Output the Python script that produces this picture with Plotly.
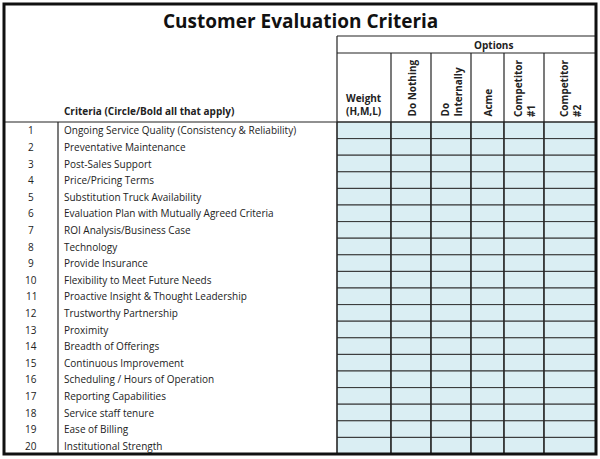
import plotly.graph_objects as go

title = "Customer Evaluation Criteria"
criteria_header = "Criteria (Circle/Bold all that apply)"
option_labels = ["Do Nothing", "Do<br>Internally", "Acme", "Competitor<br>#1", "Competitor<br>#2"]
weight_label = "<b>Weight<br>(H,M,L)</b>"
row_numbers = list(range(1, 21))
criteria = [
    "Ongoing Service Quality (Consistency & Reliability)",
    "Preventative Maintenance",
    "Post-Sales Support",
    "Price/Pricing Terms",
    "Substitution Truck Availability",
    "Evaluation Plan with Mutually Agreed Criteria",
    "ROI Analysis/Business Case",
    "Technology",
    "Provide Insurance",
    "Flexibility to Meet Future Needs",
    "Proactive Insight & Thought Leadership",
    "Trustworthy Partnership",
    "Proximity",
    "Breadth of Offerings",
    "Continuous Improvement",
    "Scheduling / Hours of Operation",
    "Reporting Capabilities",
    "Service staff tenure",
    "Ease of Billing",
    "Institutional Strength",
]

# layout geometry (pixels)
L, R, T, B = 4, 596, 4, 454
num_x = 58
col_edges = [337, 391, 431, 471, 504, 544, R]
title_y, opt_y, head_y = 36, 53, 122
row_h = (B - head_y) / len(criteria)

FONT = "Open Sans"
fig = go.Figure()
shapes = []
ann = []

# blue cells
for i in range(len(criteria)):
    y0 = head_y + i * row_h
    for c in range(len(col_edges) - 1):
        shapes.append(dict(type="rect", x0=col_edges[c], x1=col_edges[c + 1], y0=y0, y1=y0 + row_h,
                           fillcolor="#DAEEF3", line=dict(color="#333", width=1), layer="below"))
    ann.append(dict(x=(L + num_x) / 2, y=y0 + row_h / 2, text=str(row_numbers[i]), showarrow=False,
                    font=dict(size=10, color="#222", family=FONT)))
    ann.append(dict(x=num_x + 4, y=y0 + row_h / 2, text=criteria[i], showarrow=False, xanchor="left",
                    font=dict(size=10, color="#222", family=FONT)))

def line(x0, y0, x1, y1, w=1.2):
    shapes.append(dict(type="line", x0=x0, y0=y0, x1=x1, y1=y1, line=dict(color="#222", width=w)))

line(col_edges[0], title_y, R, title_y)
line(col_edges[0], opt_y, R, opt_y)
line(L, head_y, R, head_y)
line(num_x, head_y, num_x, B)
for x in col_edges[:-1]:
    line(x, title_y if x == col_edges[0] else opt_y, x, B)
shapes.append(dict(type="rect", x0=L, x1=R, y0=T, y1=B, line=dict(color="#111", width=3)))

ann.append(dict(x=(L + R) / 2, y=(T + title_y) / 2 + 1, text="<b>" + title + "</b>", showarrow=False,
                font=dict(size=19, color="#111", family=FONT)))
ann.append(dict(x=(col_edges[1] + R) / 2, y=(title_y + opt_y) / 2, text="<b>Options</b>", showarrow=False,
                font=dict(size=10, color="#222", family=FONT)))
ann.append(dict(x=num_x + 4, y=head_y - 2, text="<b>" + criteria_header + "</b>", showarrow=False,
                xanchor="left", yanchor="bottom", font=dict(size=10, color="#222", family=FONT)))
ann.append(dict(x=(col_edges[0] + col_edges[1]) / 2, y=head_y - 2, text=weight_label, showarrow=False,
                yanchor="bottom", font=dict(size=10, color="#222", family=FONT)))
for c, lab in enumerate(option_labels):
    ann.append(dict(x=(col_edges[c + 1] + col_edges[c + 2]) / 2, y=head_y - 3, text="<b>" + lab + "</b>",
                    showarrow=False, textangle=-90, yanchor="bottom", xanchor="center", align="left",
                    font=dict(size=10, color="#222", family=FONT)))

fig.update_layout(width=600, height=459, margin=dict(l=0, r=0, t=0, b=0),
                  plot_bgcolor="white", paper_bgcolor="white", shapes=shapes, annotations=ann,
                  xaxis=dict(range=[0, 600], visible=False, fixedrange=True),
                  yaxis=dict(range=[459, 0], visible=False, fixedrange=True), showlegend=False)
fig.write_html("out.html", config={"displayModeBar": False},
               post_script="document.body.style.margin='0';document.body.style.overflow='hidden';")
